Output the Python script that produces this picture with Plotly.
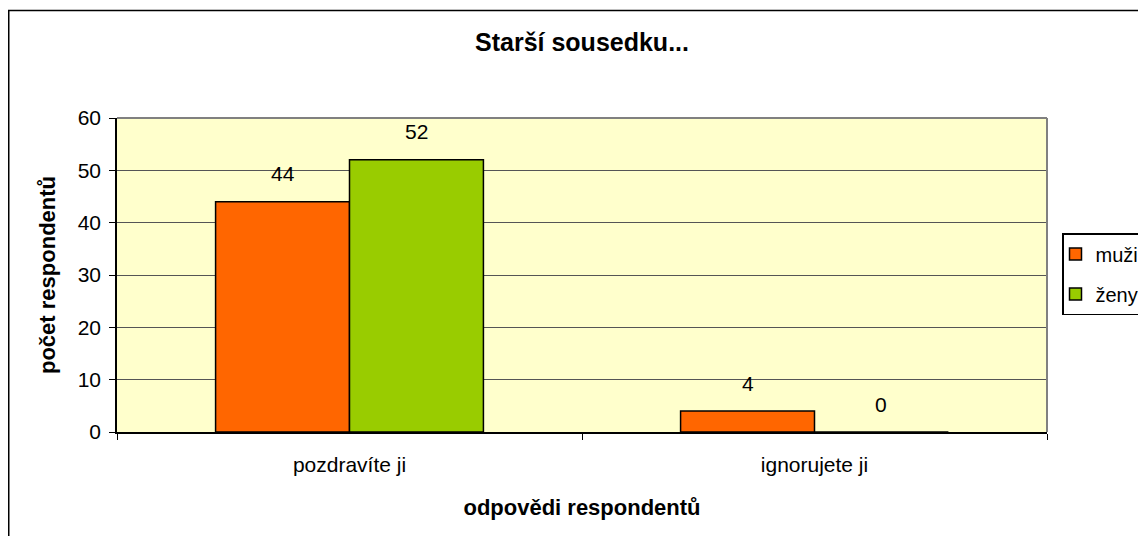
import plotly.graph_objects as go

categories = ["pozdravíte ji", "ignorujete ji"]
muzi = [44, 4]
zeny = [52, 0]
series_names = ["muži", "ženy"]
y_ticks = [0, 10, 20, 30, 40, 50, 60]

FONT = "Liberation Sans, Arial, sans-serif"
# page body has an 8px margin; size the figure so the page needs no scrollbars
W, H = 1138, 528
ML, MR, MT, MB = 109, 99, 110, 104
plot_w = W - ML - MR
plot_h = H - MT - MB

fig = go.Figure()
fig.add_trace(go.Bar(name=series_names[0], x=categories, y=muzi,
                     marker=dict(color="#FF6600", line=dict(color="#000000", width=1.5)),
                     legendgroup="a"))
fig.add_trace(go.Bar(name=series_names[1], x=categories, y=zeny,
                     marker=dict(color="#99CC00", line=dict(color="#000000", width=1.5)),
                     legendgroup="b"))

bargap = 0.424
bar_px = plot_w / len(categories) * (1 - bargap) / 2
annotations = []
for vals, sh in ((muzi, -bar_px / 2), (zeny, bar_px / 2)):
    for c, v in zip(categories, vals):
        annotations.append(dict(x=c, y=v, xref="x", yref="y", text=str(v), showarrow=False,
                                xshift=sh, yshift=28, yanchor="middle",
                                font=dict(family=FONT, size=21, color="#000000")))

shapes = [
    # outer chart border
    dict(type="rect", xref="paper", yref="paper",
         x0=(0.75 - ML) / plot_w, x1=1.3, y0=-0.6, y1=(MT + plot_h - 2.5) / plot_h,
         line=dict(color="#000000", width=1.5), fillcolor="rgba(0,0,0,0)", layer="above"),
    # plot area top/right border
    dict(type="line", xref="paper", yref="paper", x0=0, x1=1, y0=1, y1=1,
         line=dict(color="#808080", width=2), layer="above"),
    dict(type="line", xref="paper", yref="paper", x0=1, x1=1, y0=0, y1=1,
         line=dict(color="#808080", width=2), layer="above"),
]

fig.update_layout(
    width=W, height=H,
    margin=dict(l=ML, r=MR, t=MT, b=MB, autoexpand=False),
    paper_bgcolor="#FFFFFF", plot_bgcolor="#FFFFCC",
    barmode="group", bargap=bargap, bargroupgap=0,
    font=dict(family=FONT, size=21, color="#000000"),
    title=dict(text="<b>Starší sousedku...</b>", x=0.5, xref="paper", xanchor="center",
               y=1 - 34 / H, yref="container", yanchor="middle",
               font=dict(family=FONT, size=25, color="#000000")),
    xaxis=dict(type="category", showline=True, linecolor="#000000", linewidth=1.5,
               ticks="outside", tickson="boundaries", ticklen=6, tickcolor="#000000",
               ticklabelstandoff=13, showgrid=False,
               title=dict(text="<b>odpovědi respondentů</b>", standoff=25,
                          font=dict(family=FONT, size=22, color="#000000")),
               tickfont=dict(family=FONT, size=21, color="#000000")),
    yaxis=dict(range=[0, 60], tickvals=y_ticks, showline=True, linecolor="#000000", linewidth=1.5,
               ticks="outside", ticklen=6, tickcolor="#000000", ticklabelstandoff=4,
               showgrid=True, gridcolor="#555555", gridwidth=1, zeroline=False,
               title=dict(text="<b>počet respondentů</b>", standoff=16,
                          font=dict(family=FONT, size=22, color="#000000")),
               tickfont=dict(family=FONT, size=21, color="#000000")),
    legend=dict(x=(1054 - ML) / plot_w, xanchor="left", y=(MT + plot_h - 266) / plot_h, yanchor="middle",
                bgcolor="#FFFFFF", bordercolor="#000000", borderwidth=1.5, indentation=-8,
                font=dict(family=FONT, size=20, color="#000000"), tracegroupgap=11),
    annotations=annotations,
    shapes=shapes,
)

fig.write_html("out.html")
